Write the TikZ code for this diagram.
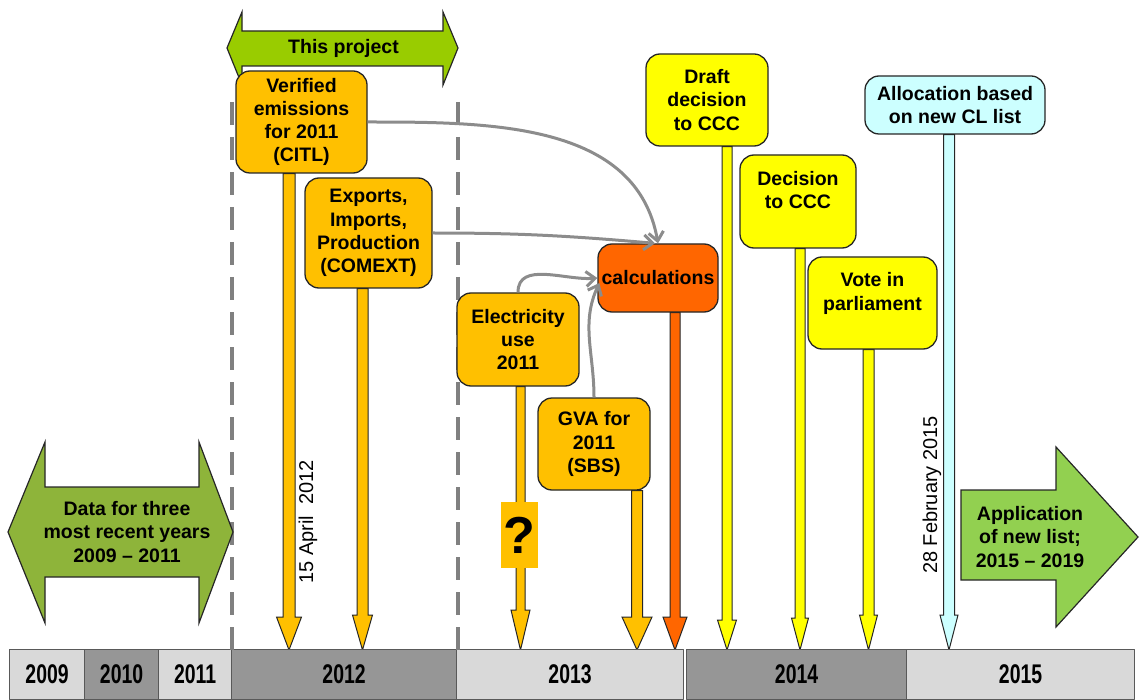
\documentclass[tikz,border=0pt]{standalone}
\usepackage{fontspec}
\setmainfont{Liberation Sans}
\usetikzlibrary{arrows.meta,calc}

\definecolor{boxorange}{HTML}{FFC000}
\definecolor{calcorange}{HTML}{FF6600}
\definecolor{boxyellow}{HTML}{FFFF00}
\definecolor{boxcyan}{HTML}{CCFFFF}
\definecolor{projgreen}{HTML}{99CC00}
\definecolor{datagreen}{HTML}{8EB43A}
\definecolor{appgreen}{HTML}{92D050}
\definecolor{yrlight}{HTML}{D9D9D9}
\definecolor{yrdark}{HTML}{969696}
\definecolor{yredge}{HTML}{595959}
\definecolor{linkgray}{HTML}{8C8C8C}
\definecolor{dashgray}{HTML}{808080}
\definecolor{edge}{HTML}{262626}

\newcommand{\boxfont}{\fontsize{19.5}{23.3}\selectfont\bfseries}
\newcommand{\yrfont}{\fontsize{27}{27}\selectfont\bfseries}
\newcommand{\yrlabel}[1]{\scalebox{0.72}[1]{#1}}

\pgfdeclarelayer{bg}
\pgfsetlayers{bg,main}

% stem from a box down to the year bar: box, tip, half shaft, half head, head length, colour
\newcommand{\dropstem}[6]{%
  \draw[stemline, fill=#6]
    ($(#2 |- #1.south)+(-#3,0)$) -- ($(#2)+(-#3,#5)$) -- ($(#2)+(-#4,#5)$)
    -- (#2) -- ($(#2)+(#4,#5)$) -- ($(#2)+(#3,#5)$)
    -- ($(#2 |- #1.south)+(#3,0)$) -- cycle;}

\tikzset{
  evbox/.style={draw=edge, line width=1.3pt, rounded corners=14pt, align=center,
    inner sep=0pt, font=\boxfont},
  yr/.style={draw=yredge, line width=1.2pt, minimum height=50pt, inner sep=0pt,
    anchor=south west, font=\yrfont},
  stemline/.style={draw=edge, line width=1pt, line join=miter},
  bigarrow/.style={draw=edge, line width=1.2pt, line join=miter},
  divider/.style={draw=dashgray, line width=4pt, dash pattern=on 23pt off 12pt},
  link/.style={draw=linkgray, line width=3pt, -{Straight Barb[length=9pt,width=15pt]}},
  datetext/.style={rotate=90, font=\fontsize{20}{20}\selectfont},
}

\begin{document}
\begin{tikzpicture}[x=1pt, y=1pt, line join=round]
  \useasboundingbox (0,0) rectangle (1139,-700);

  % years
  \node[yr, fill=yrlight, minimum width=75pt] (y09) at (9,-700) {\yrlabel{2009}};
  \node[yr, fill=yrdark, minimum width=74pt] (y10) at (84,-700) {\yrlabel{2010}};
  \node[yr, fill=yrlight, minimum width=73pt] (y11) at (158,-700) {\yrlabel{2011}};
  \node[yr, fill=yrdark, minimum width=225pt] (y12) at (231,-700) {\yrlabel{2012}};
  \node[yr, fill=yrlight, minimum width=227pt] (y13) at (456,-700) {\yrlabel{2013}};
  \node[yr, fill=yrdark, minimum width=220pt] (y14) at (686,-700) {\yrlabel{2014}};
  \node[yr, fill=yrlight, minimum width=228pt] (y15) at (906,-700) {\yrlabel{2015}};

  % project period
  \draw[divider] (232,-102) -- (232,-650);
  \draw[divider] (458,-102) -- (458,-650);

  % block arrows
  \draw[bigarrow, fill=projgreen] (227,-48) -- (242,-12) -- (242,-31) -- (443,-31)
    -- (443,-12) -- (458,-48) -- (443,-85) -- (443,-66) -- (242,-66) -- (242,-85) -- cycle;
  \node[font=\boxfont] (proj) at (343.5,-48) {This project};

  \draw[bigarrow, fill=datagreen] (8,-532) -- (45,-442) -- (45,-487) -- (199,-487)
    -- (199,-442) -- (233,-532) -- (199,-623) -- (199,-577) -- (45,-577) -- (45,-623) -- cycle;
  \node[font=\boxfont, align=center] (data) at (127,-532)
    {Data for three\\most recent years\\2009 -- 2011};

  \draw[bigarrow, fill=appgreen] (961,-490) -- (1056,-490) -- (1056,-447) -- (1138,-537)
    -- (1056,-627) -- (1056,-580) -- (961,-580) -- cycle;
  \node[font=\boxfont, align=center] (app) at (1030,-537)
    {Application\\of new list;\\2015 -- 2019};

  % events
  \node[evbox, fill=boxorange, minimum width=131pt, minimum height=102pt] (vbox)
    at (301.5,-122) {Verified\\emissions\\for 2011\\(CITL)};
  \node[evbox, fill=boxorange, minimum width=127pt, minimum height=110pt] (ebox)
    at (368.5,-233) {Exports,\\Imports,\\Production\\(COMEXT)};
  \node[evbox, fill=boxorange, minimum width=122pt, minimum height=93pt] (elbox)
    at (518,-339.5) {Electricity\\use\\2011};
  \node[evbox, fill=boxorange, minimum width=112pt, minimum height=92pt] (gbox)
    at (594,-444) {GVA for\\2011\\(SBS)};
  \node[evbox, fill=calcorange, minimum width=120pt, minimum height=68pt] (cbox)
    at (658,-278) {calculations};
  \node[evbox, fill=boxyellow, minimum width=122pt, minimum height=92pt] (dbox)
    at (707,-100) {Draft\\decision\\to CCC};
  \node[evbox, fill=boxyellow, minimum width=116pt, minimum height=93pt] (decbox)
    at (798,-201.5) {Decision\\to CCC\\\mbox{}};
  \node[evbox, fill=boxyellow, minimum width=129pt, minimum height=92pt] (votebox)
    at (872.5,-303) {Vote in\\parliament\\\mbox{}};
  \node[evbox, fill=boxcyan, minimum width=180pt, minimum height=58pt] (abox)
    at (955,-105) {Allocation based\\on new CL list};

  % stems down to the years
  \coordinate (t1) at (289,-650);
  \coordinate (t2) at (362.5,-650);
  \coordinate (t3) at (520.5,-650);
  \coordinate (t4) at (637,-650);
  \coordinate (t5) at (675,-650);
  \coordinate (t6) at (727,-650);
  \coordinate (t7) at (800,-650);
  \coordinate (t8) at (868.5,-650);
  \coordinate (t9) at (949,-650);
  \begin{pgfonlayer}{bg}
    \dropstem{vbox}{t1}{6}{12.5}{33}{boxorange}
    \dropstem{ebox}{t2}{5.5}{10}{35}{boxorange}
    \dropstem{elbox}{t3}{4.5}{9.5}{40}{boxorange}
    \dropstem{gbox}{t4}{5.5}{15}{33}{boxorange}
    \dropstem{cbox}{t5}{5}{12}{33}{calcorange}
    \dropstem{dbox}{t6}{5}{9.5}{30}{boxyellow}
    \dropstem{decbox}{t7}{5}{8.5}{32}{boxyellow}
    \dropstem{votebox}{t8}{5.5}{9}{35}{boxyellow}
    \dropstem{abox}{t9}{5.5}{9}{35}{boxcyan}
  \end{pgfonlayer}

  \node[fill=boxorange, minimum width=37pt, minimum height=66pt, inner sep=0pt,
    font=\fontsize{52}{52}\selectfont\bfseries] (qbox) at (519.5,-535) {?};

  \node[datetext] (d12) at (308,-522) {15 April\ \ 2012};
  \node[datetext] (d15) at (932,-495) {28 February 2015};

  % inputs to the calculations
  \draw[link] (vbox.east) to[out=0, in=100] (cbox.north);
  \draw[link] (ebox.east) to[out=0, in=175] ($(cbox.north)+(-3,0)$);
  \draw[link] (elbox.north) to[out=90, in=185] (cbox.west);
  \draw[link] (gbox.north) to[out=90, in=245] ($(cbox.west)+(2,-5)$);
\end{tikzpicture}
\end{document}
